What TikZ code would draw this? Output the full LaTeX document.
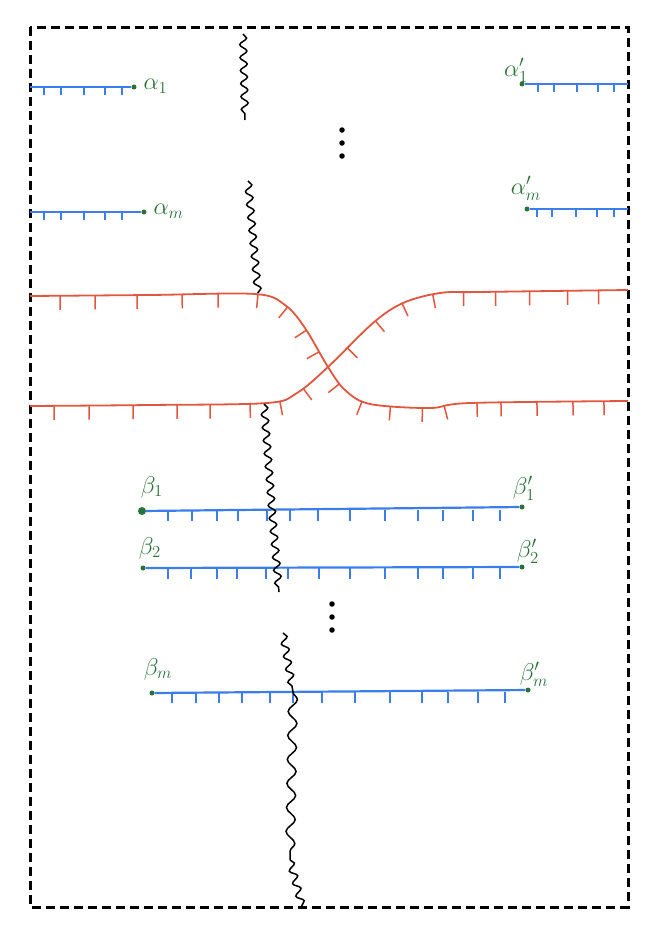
\documentclass[tikz,border=0pt]{standalone}
\usetikzlibrary{decorations.pathmorphing,decorations.markings}
\definecolor{bblue}{RGB}{59,125,236}
\definecolor{rred}{RGB}{226,86,62}
\definecolor{ggreen}{RGB}{40,115,55}
\pgfkeys{/pgf/decoration/rtick/.style={mark=at position #1pt with {\draw[rred,line width=1.5pt] (0pt,0pt) -- (0pt,-14pt);}}}
\tikzset{
  frame/.style={line width=3pt,dash pattern=on 9pt off 5pt},
  bline/.style={bblue,line width=2.2pt},
  btick/.style={bblue,line width=1.6pt},
  redline/.style={rred,line width=1.8pt},
  gdot/.style={circle,fill=ggreen,inner sep=0pt,minimum size=5pt},
  gbig/.style={circle,fill=ggreen,inner sep=0pt,minimum size=8pt},
  glabel/.style={text=ggreen,font=\fontsize{17}{17}\selectfont,inner sep=1pt,scale=1.4},
  wig/.style={black,line width=1.5pt,decorate,decoration={snake,amplitude=3.5pt,segment length=13pt}},
  wigwide/.style={black,line width=1.5pt,decorate,decoration={snake,amplitude=4.5pt,segment length=24pt}},
  vdot/.style={circle,fill=black,inner sep=0pt,minimum size=5.5pt}
}
\begin{document}
\begin{tikzpicture}[x=1pt,y=-1pt]
\useasboundingbox (0,0) rectangle (661,929);
\draw[frame] (30,27) rectangle (628,907);

% alpha lines left
\coordinate (a1L) at (30,87);
\node[gdot] (a1) at (134,87) {};
\draw[bline] (a1L) -- (a1);
\foreach \x in {44,61,84,105,122} \draw[btick] (\x,87) -- ++(0,8);
\node[glabel,anchor=west] (a1t) at (142,86) {$\alpha_1$};

\coordinate (amL) at (30,212);
\node[gdot] (am) at (144,212) {};
\draw[bline] (amL) -- (am);
\foreach \x in {44,61,84,105,122} \draw[btick] (\x,212) -- ++(0,8);
\node[glabel,anchor=west] (amt) at (152,211) {$\alpha_m$};

% alpha lines right
\coordinate (b1R) at (628,84);
\node[gdot] (ap1) at (522,84) {};
\draw[bline] (ap1) -- (b1R);
\foreach \x in {538,554,577,598,614} \draw[btick] (\x,84) -- ++(0,8);
\node[glabel] (ap1t) at (516,70) {$\alpha'_1$};

\coordinate (bmR) at (628,209);
\node[gdot] (apm) at (527,209) {};
\draw[bline] (apm) -- (bmR);
\foreach \x in {537,552,576,597,614} \draw[btick] (\x,209) -- ++(0,8);
\node[glabel] (apmt) at (526,188) {$\alpha'_m$};

% vertical dots
\node[vdot] (d1) at (342,130) {};
\node[vdot] (d2) at (342,143) {};
\node[vdot] (d3) at (342,156) {};

% red curves
\draw[redline,postaction={decorate,decoration={markings,rtick/.list={30,65,107,152,188,228,261,291,316,354,383,412,444,466,499,523,559,595,626}}}]
  plot[smooth,tension=0.55] coordinates {(30,296) (150,295) (255,294) (285,305) (305,328) (328,367) (345,390) (370,404) (430,408) (470,403) (628,401)};
\draw[redline,postaction={decorate,decoration={markings,rtick/.list={24,59,103,147,180,220,250,277,337,376,408,440,471,503,537,575,606}}}]
  plot[smooth,tension=0.55] coordinates {(30,406) (150,405) (267,403) (297,393) (328,367) (373,323) (403,303) (440,293) (480,292) (628,290)};

% beta lines
\node[gbig] (b1) at (142,511) {};
\node[gdot] (bp1) at (522,507) {};
\draw[bline] (b1) -- (bp1);
\foreach \x in {168,192,217,238,267,290,318,350,385,418,443,473,500} \draw[btick] (\x,510) -- ++(0,11);
\node[glabel] (b1t) at (152,487) {$\beta_1$};
\node[glabel] (bp1t) at (524,488) {$\beta'_1$};

\node[gdot] (b2) at (143,568) {};
\node[gdot] (bp2) at (522,567) {};
\draw[bline] (b2) -- (bp2);
\foreach \x in {168,191,217,237,266,288,319,350,385,418,443,473,500} \draw[btick] (\x,568) -- ++(0,11);
\node[glabel] (b2t) at (150,548) {$\beta_2$};
\node[glabel] (bp2t) at (528,551) {$\beta'_2$};

\node[vdot] (e1) at (332,604) {};
\node[vdot] (e2) at (332,617) {};
\node[vdot] (e3) at (332,630) {};

\node[gdot] (bm) at (152,693) {};
\node[gdot] (bpm) at (528,690) {};
\draw[bline] (bm) -- (bpm);
\foreach \x in {172,196,219,242,270,293,322,355,390,422,448,478,505} \draw[btick] (\x,692) -- ++(0,11);
\node[glabel] (bmt) at (158,669) {$\beta_m$};
\node[glabel] (bpmt) at (534,674) {$\beta'_m$};

% wiggly lines
\coordinate (w1a) at (243,34);
\coordinate (w1b) at (245,120);
\draw[wig] (w1a) -- (w1b);
\coordinate (w2a) at (248,181);
\coordinate (w2b) at (258,293);
\draw[wig] (w2a) -- (w2b);
\coordinate (w3a) at (264,404);
\coordinate (w3m) at (272,510);
\coordinate (w3b) at (279,592);
\draw[wig] (w3a) -- (w3m) -- (w3b);
\coordinate (w4a) at (283,633);
\coordinate (w4m) at (293,692);
\coordinate (w4n) at (290,860);
\coordinate (w4b) at (302,906);
\draw[wig] (w4a) -- (w4m);
\draw[wigwide] (w4m) -- (w4n);
\draw[wig] (w4n) -- (w4b);
\end{tikzpicture}
\end{document}
